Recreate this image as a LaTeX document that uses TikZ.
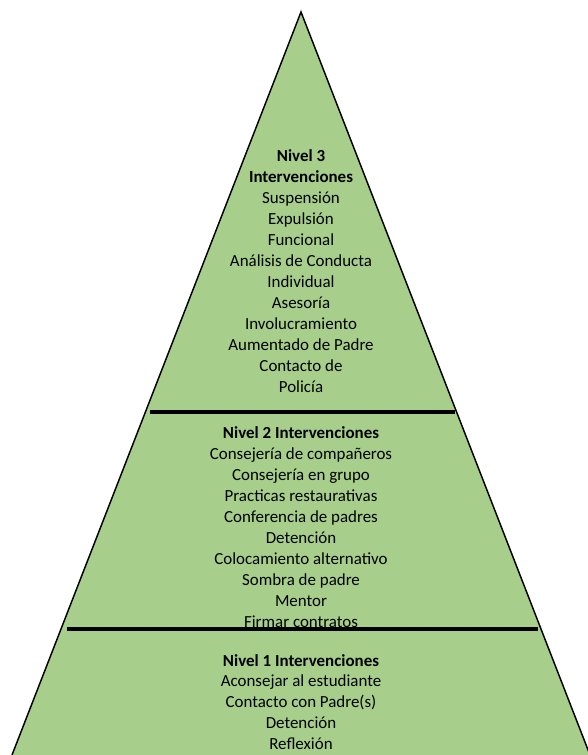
\documentclass[tikz,border=0pt]{standalone}
\usepackage{fontspec}
\setmainfont{Carlito}
\usepackage{xcolor}
\usetikzlibrary{positioning,calc}
\definecolor{verdepiramide}{RGB}{167,207,139}
\tikzset{
piramide/.style={fill=verdepiramide, draw=black, line width=1.1pt, line join=miter},
separador/.style={draw=black, line width=2.4pt},
nivel/.style={
  align=center,
  inner sep=0pt,
  font=\fontsize{12.7}{15.7}\selectfont
},
}

\begin{document}
\begin{tikzpicture}[x=0.75pt,y=-0.75pt]
    \useasboundingbox (0,0) rectangle (587,755);
    % triangulo
    \coordinate (cima) at (301,12);
    \coordinate (izq) at (12,755);
    \coordinate (der) at (590,755);
    \draw[piramide] (izq) -- (cima) -- (der);
    % separadores
    \coordinate (s1a) at (150,412);
    \coordinate (s1b) at (455,412);
    \coordinate (s2a) at (67,629);
    \coordinate (s2b) at (538,629);
    \draw[separador] (s1a) -- (s1b);
    \draw[separador] (s2a) -- (s2b);
    % niveles
    \node[nivel] (nivel3) at (301,271) {\textbf{Nivel 3}\\ \textbf{Intervenciones}\\ Suspensión\\ Expulsión\\ Funcional\\
        Análisis de Conducta\\ Individual\\ Asesoría\\ Involucramiento\\ Aumentado de Padre\\ Contacto de\\ Policía};
    \node[nivel] (nivel2) at (301,527) {\textbf{Nivel 2 Intervenciones}\\ Consejería de compañeros\\ Consejería en grupo\\
        Practicas restaurativas\\ Conferencia de padres\\ Detención\\ Colocamiento alternativo\\ Sombra de padre\\ Mentor\\ Firmar contratos};
    \node[nivel] (nivel1) at (301,702) {\textbf{Nivel 1 Intervenciones}\\ Aconsejar al estudiante\\ Contacto con Padre(s)\\ Detención\\ Reflexión};
\end{tikzpicture}
\end{document}
